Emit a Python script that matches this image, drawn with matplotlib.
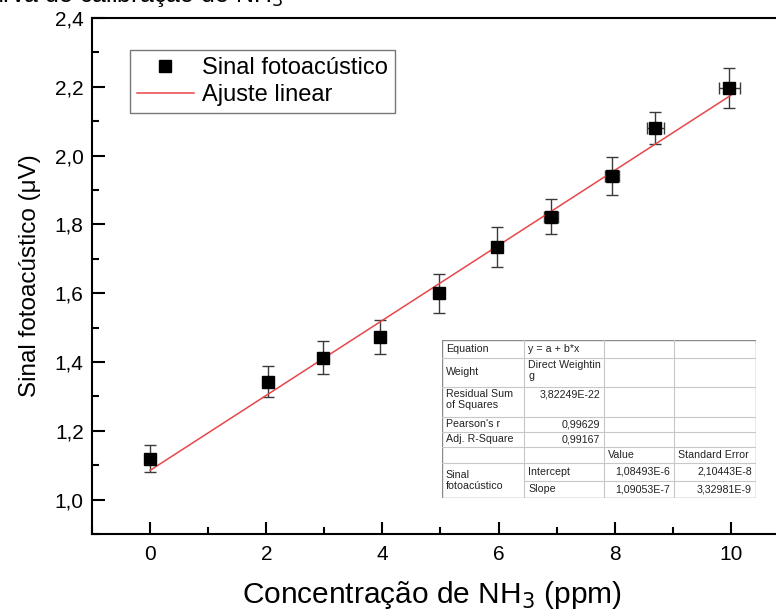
import matplotlib
matplotlib.use("Agg")
import matplotlib.pyplot as plt
from matplotlib.lines import Line2D
from matplotlib.ticker import MultipleLocator, FuncFormatter
import numpy as np

plt.rcParams['font.family'] = ['Liberation Sans', 'DejaVu Sans']

# ---- data ----
conc = [0.0, 2.03, 2.98, 3.96, 4.97, 5.98, 6.91, 7.96, 8.70, 9.97]
signal = [1.119, 1.342, 1.413, 1.472, 1.600, 1.734, 1.822, 1.941, 2.080, 2.196]
signal_err = [0.039, 0.045, 0.049, 0.050, 0.057, 0.059, 0.051, 0.055, 0.047, 0.059]
conc_err = [0.0, 0.0, 0.0, 0.0, 0.0, 0.08, 0.12, 0.12, 0.15, 0.18]
fit_intercept = 1.08493
fit_slope = 0.109053
fit_range = [0.0, 10.0]

table_rows = [
    ["Equation", "y = a + b*x", "", ""],
    ["Weight", "Direct Weightin\ng", "", ""],
    ["Residual Sum\nof Squares", "3,82249E-22", "", ""],
    ["Pearson's r", "0,99629", "", ""],
    ["Adj. R-Square", "0,99167", "", ""],
    ["", "", "Value", "Standard Error"],
    ["Sinal\nfotoacústico", "Intercept", "1,08493E-6", "2,10443E-8"],
    ["", "Slope", "1,09053E-7", "3,32981E-9"],
]

W, H = 776, 612
fig = plt.figure(figsize=(W / 100, H / 100), dpi=100)
ax = fig.add_axes([92 / W, 1 - 534 / H, (789 - 92) / W, (534 - 18) / H])

ax.errorbar(conc, signal, yerr=signal_err, xerr=conc_err, fmt='none',
            ecolor='#3a3a3a', elinewidth=1.0, capsize=4.5, capthick=1.0, zorder=2)
xf = np.array(fit_range)
ax.plot(xf, fit_intercept + fit_slope * xf, color='#e8474a', lw=1.1, zorder=3)
ax.plot(conc, signal, 's', color='black', ms=9, zorder=4)

ax.set_xlim(-1, 11)
ax.set_ylim(0.9, 2.4)
ax.xaxis.set_major_locator(MultipleLocator(2))
ax.xaxis.set_minor_locator(MultipleLocator(1))
ax.yaxis.set_major_locator(MultipleLocator(0.2))
ax.yaxis.set_minor_locator(MultipleLocator(0.1))
ax.yaxis.set_major_formatter(FuncFormatter(lambda v, p: f"{v:.1f}".replace('.', ',')))
ax.xaxis.set_major_formatter(FuncFormatter(lambda v, p: f"{v:.0f}"))
ax.tick_params(which='both', direction='in', width=1.5, labelsize=15)
ax.tick_params(which='major', length=9)
ax.tick_params(which='minor', length=5)
ax.tick_params(axis='y', which='major', pad=6)
ax.tick_params(axis='x', which='major', pad=8)
ax.tick_params(top=False, right=False)
for s in ax.spines.values():
    s.set_linewidth(1.5)

ax.set_xlabel("Concentração de NH$_3$ (ppm)", fontsize=21.5)
ax.set_ylabel("Sinal fotoacústico (μV)", fontsize=17.5, labelpad=10)
ax.xaxis.set_label_coords((432 - 92) / (789 - 92), -0.088)

handles = [Line2D([], [], marker='s', color='black', ls='none', ms=9),
           Line2D([], [], color='#e8474a', lw=1.1)]
leg = ax.legend(handles, ["Sinal fotoacústico", "Ajuste linear"],
                loc='upper left', bbox_to_anchor=((130 - 92) / 697, (534 - 50) / 516),
                borderaxespad=0, fontsize=17, fancybox=False, frameon=True,
                edgecolor='#555555', handlelength=2.4, handletextpad=0.35,
                borderpad=0.3, labelspacing=0.2)
leg.get_frame().set_linewidth(1.0)

# clipped title at the top
fig.text(283 / W, 1 - 2 / H, "Curva de calibração de NH$_3$", ha='right', va='baseline',
         fontsize=18)

# ---- statistics table ----
tx0, tx1, ty0, ty1 = 441.7, 756.0, 340.0, 497.7
tab = fig.add_axes([tx0 / W, 1 - ty1 / H, (tx1 - tx0) / W, (ty1 - ty0) / H])
tw, th = tx1 - tx0, ty1 - ty0
tab.set_xlim(0, tw)
tab.set_ylim(th, 0)
tab.axis('off')
tab.add_patch(plt.Rectangle((0, 0), tw, th, facecolor='white', edgecolor='none', zorder=0))
cols = [0, 82.6, 162.6, 232.6, tw]
rows = [0, 17.7, 46.7, 76.7, 91.7, 106.7, 123.3, 140.7, th]
lc = '#c8c8c8'
for yv in rows[1:-1]:
    x_start = cols[1] if abs(yv - rows[7]) < 0.1 else 0
    tab.plot([x_start, tw], [yv, yv], color=lc, lw=0.8)
for xv in cols[1:-1]:
    tab.plot([xv, xv], [0, th], color=lc, lw=0.8)
tab.add_patch(plt.Rectangle((0, 0), tw, th, facecolor='none', edgecolor='#8a8a8a', lw=1.0))

fs = 7.7
right_cells = {(2, 1), (3, 1), (4, 1), (6, 2), (6, 3), (7, 2), (7, 3)}
top_cells = {(1, 1), (2, 0), (2, 1)}
for r, row in enumerate(table_rows):
    for c, txt in enumerate(row):
        if not txt:
            continue
        y_top, y_bot = rows[r], rows[r + 1]
        if r == 6 and c == 0:
            y_bot = rows[8]
        if (r, c) in top_cells:
            yy, va = y_top + 2.5, 'top'
        else:
            yy, va = (y_top + y_bot) / 2, 'center'
        if (r, c) in right_cells:
            xx, ha = cols[c + 1] - 4, 'right'
        else:
            xx, ha = cols[c] + 4, 'left'
        tab.text(xx, yy, txt, ha=ha, va=va, fontsize=fs, color='#222222',
                 linespacing=1.05)

fig.savefig("out.png", dpi=100)
